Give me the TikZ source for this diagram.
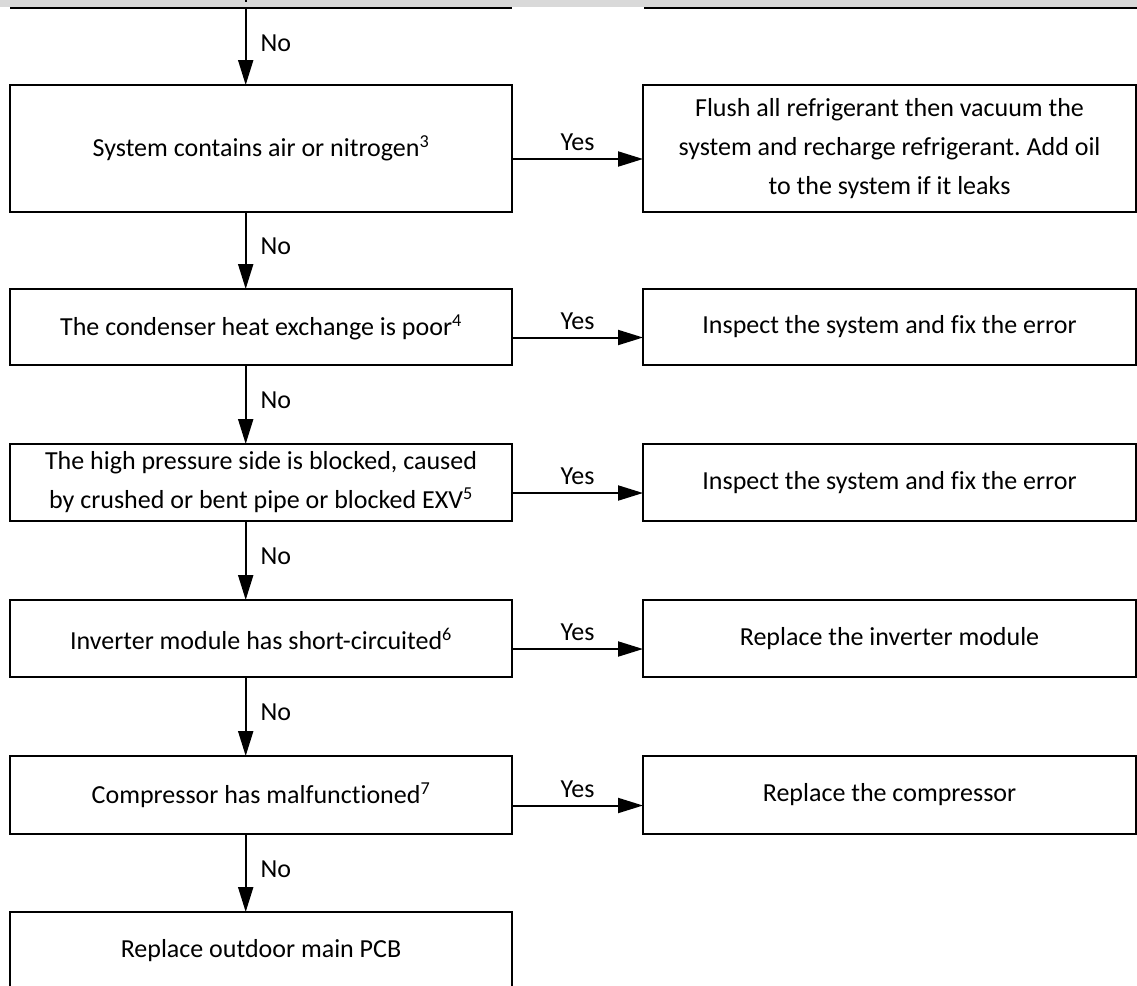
\documentclass[tikz,border=0pt]{standalone}
\usepackage{fontspec}
\setmainfont{Carlito}[Ligatures=NoCommon]
\usetikzlibrary{arrows.meta}
\frenchspacing
\begin{document}
\begin{tikzpicture}[x=1pt,y=-1pt,
  box/.style={draw=black,line width=2.2pt,inner sep=0pt,outer sep=0pt,align=center,
    font=\fontsize{26}{39}\selectfont},
  lbox/.style={box,minimum width=502pt},
  rbox/.style={box,minimum width=493pt},
  arr/.style={line width=2pt,-{Triangle[length=25pt,width=15pt]}},
  lab/.style={font=\fontsize{26}{31}\selectfont,inner sep=0pt}]
\useasboundingbox (0,0) rectangle (1137,985);
\clip (0,0) rectangle (1137,985);
% top band
\fill[fill={rgb,255:red,217;green,217;blue,217}] (0,0) rectangle (1137,7);
\draw[line width=2pt] (245.7,0) -- (245.7,1.8);
\draw[line width=2.2pt] (10,7.8) -- (512,7.8);
\draw[line width=2.2pt] (644,7.8) -- (1137,7.8);
\coordinate (top) at (245.7,8.9);
% left column
\node[lbox,minimum height=127pt] (b1) at (261,148.5) {System contains air or nitrogen\textsuperscript{3}};
\node[lbox,minimum height=76pt] (b2) at (261,327) {The condenser heat exchange is poor\textsuperscript{4}};
\node[lbox,minimum height=77pt] (b3) at (261,482.5) {The high pressure side is blocked, caused\\by crushed or bent pipe or blocked EXV\textsuperscript{5}};
\node[lbox,minimum height=77pt] (b4) at (261,638.5) {Inverter module has short-circuited\textsuperscript{6}};
\node[lbox,minimum height=78pt] (b5) at (261,795) {Compressor has malfunctioned\textsuperscript{7}};
\node[lbox,minimum height=78pt] (b6) at (261,951) {Replace outdoor main PCB};
% right column
\node[rbox,minimum height=127pt] (r1) at (889.5,148.5) {Flush all refrigerant then vacuum the\\system and recharge refrigerant. Add oil\\to the system if it leaks};
\node[rbox,minimum height=76pt] (r2) at (889.5,327) {Inspect the system and fix the error};
\node[rbox,minimum height=77pt] (r3) at (889.5,482.5) {Inspect the system and fix the error};
\node[rbox,minimum height=77pt] (r4) at (889.5,638.5) {Replace the inverter module};
\node[rbox,minimum height=78pt] (r5) at (889.5,795) {Replace the compressor};
% vertical arrows
\draw[arr] (top) -- ([xshift=-15.3pt]b1.north) node[lab,midway,anchor=west,xshift=14pt,yshift=4pt] {No};
\foreach \a/\b in {b1/b2,b2/b3,b3/b4,b4/b5,b5/b6}{
  \draw[arr] ([xshift=-15.3pt]\a.south) -- ([xshift=-15.3pt]\b.north) node[lab,midway,anchor=west,xshift=14pt,yshift=4pt] {No};
}
% horizontal arrows
\foreach \a/\b in {b1/r1,b2/r2,b3/r3,b4/r4,b5/r5}{
  \draw[arr] ([yshift=-10.5pt]\a.east) -- ([yshift=-10.5pt]\b.west) node[lab,midway,above=7pt] {Yes};
}
\end{tikzpicture}
\end{document}
